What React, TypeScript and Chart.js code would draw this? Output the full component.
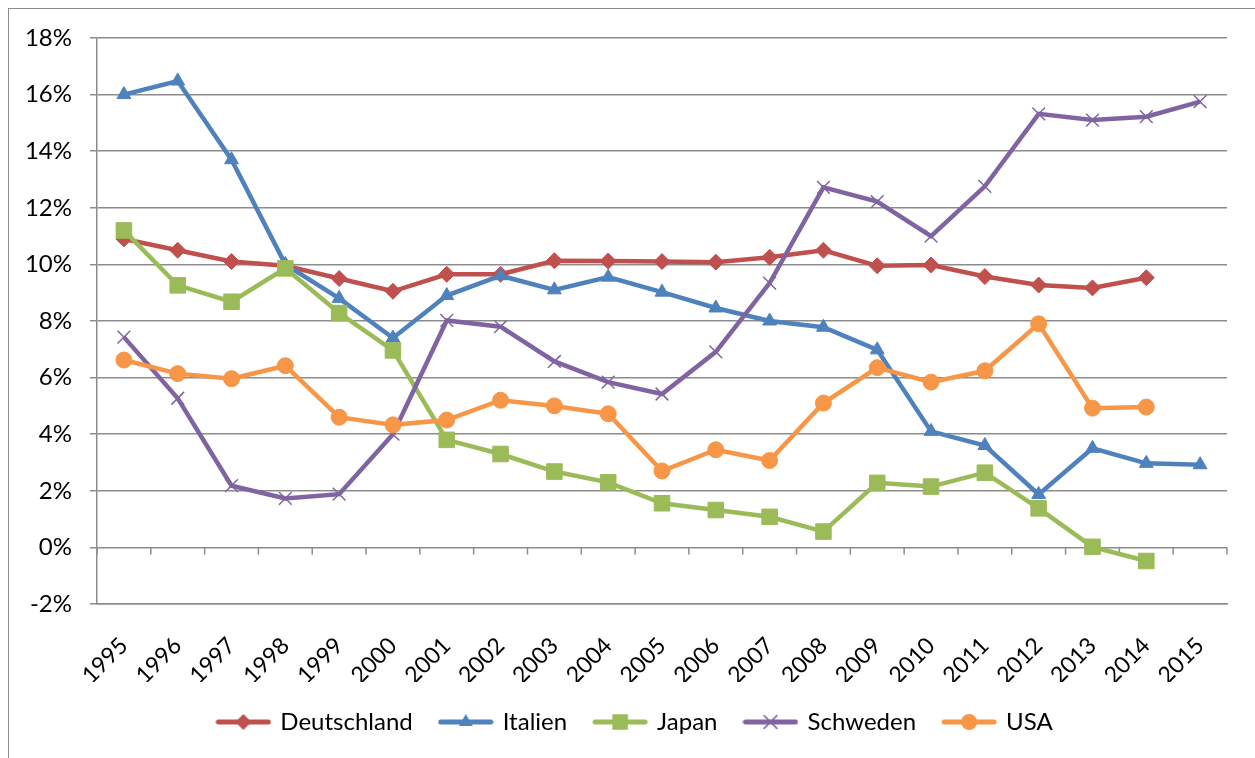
import React, { useEffect, useRef } from "react";
import { Chart, registerables } from "chart.js";

Chart.register(...registerables);

const categories = ["1995","1996","1997","1998","1999","2000","2001","2002","2003","2004","2005","2006","2007","2008","2009","2010","2011","2012","2013","2014","2015"];

const deutschland = [10.9,10.5,10.1,9.95,9.5,9.05,9.65,9.65,10.13,10.12,10.1,10.08,10.25,10.5,9.95,9.98,9.57,9.27,9.17,9.53,null];
const italien = [16.0,16.48,13.7,10.0,8.8,7.4,8.9,9.6,9.1,9.55,9.02,8.46,8.0,7.78,6.98,4.1,3.6,1.87,3.5,2.97,2.92];
const japan = [11.2,9.26,8.68,9.86,8.28,6.96,3.8,3.3,2.68,2.3,1.56,1.32,1.08,0.56,2.28,2.15,2.64,1.38,0.02,-0.48,null];
const schweden = [7.43,5.27,2.18,1.73,1.88,4.0,8.02,7.8,6.57,5.84,5.42,6.91,9.34,12.72,12.22,11.0,12.76,15.32,15.1,15.22,15.75];
const usa = [6.62,6.14,5.96,6.42,4.6,4.33,4.5,5.2,5.0,4.72,2.7,3.45,3.07,5.1,6.35,5.84,6.24,7.9,4.92,4.96,null];

const seriesNames = ["Deutschland","Italien","Japan","Schweden","USA"];
const seriesData = [deutschland, italien, japan, schweden, usa];
const seriesColors = ["#C0504D","#4F81BD","#9BBB59","#8064A2","#F79646"];
const seriesMarkers = ["rectRot","triangle","rect","crossRot","circle"];
const markerRadius = [8,8,11,9,8];

const yTicks = [-2,0,2,4,6,8,10,12,14,16,18];

const GRID = "#8c8c8c";
const FONT = "Lato, 'Liberation Sans', sans-serif";

function drawMarker(ctx: CanvasRenderingContext2D, style: string, x: number, y: number, r: number, color: string) {
  ctx.fillStyle = color;
  ctx.strokeStyle = color;
  ctx.beginPath();
  if (style === "rectRot") {
    ctx.moveTo(x, y - r); ctx.lineTo(x + r, y); ctx.lineTo(x, y + r); ctx.lineTo(x - r, y); ctx.closePath(); ctx.fill();
  } else if (style === "triangle") {
    ctx.moveTo(x, y - r); ctx.lineTo(x + r * 0.866, y + r * 0.5); ctx.lineTo(x - r * 0.866, y + r * 0.5); ctx.closePath(); ctx.fill();
  } else if (style === "rect") {
    const s = r * Math.SQRT1_2;
    ctx.rect(x - s, y - s, 2 * s, 2 * s); ctx.fill();
  } else if (style === "crossRot") {
    const s = r * Math.SQRT1_2;
    ctx.lineWidth = 1.5;
    ctx.moveTo(x - s, y - s); ctx.lineTo(x + s, y + s);
    ctx.moveTo(x + s, y - s); ctx.lineTo(x - s, y + s);
    ctx.stroke();
  } else {
    ctx.arc(x, y, r, 0, Math.PI * 2); ctx.fill();
  }
}

function legendImage(i: number): HTMLCanvasElement {
  const c = document.createElement("canvas");
  c.width = 56; c.height = 24;
  const ctx = c.getContext("2d")!;
  ctx.strokeStyle = seriesColors[i];
  ctx.lineWidth = 5;
  ctx.lineCap = "round";
  ctx.beginPath(); ctx.moveTo(3, 12); ctx.lineTo(53, 12); ctx.stroke();
  drawMarker(ctx, seriesMarkers[i], 28, 12, markerRadius[i], seriesColors[i]);
  return c;
}

const zeroTicks = {
  id: "zeroTicks",
  beforeDatasetsDraw(chart: any) {
    const xs = chart.scales.x, ys = chart.scales.y, ctx = chart.ctx;
    const y0 = ys.getPixelForValue(0);
    ctx.save();
    ctx.strokeStyle = GRID;
    ctx.lineWidth = 1.5;
    ctx.beginPath();
    for (let i = 0; i <= categories.length; i++) {
      const px = xs.getPixelForValue(i - 0.5);
      ctx.moveTo(px, y0); ctx.lineTo(px, y0 + 7);
    }
    ctx.stroke();
    ctx.restore();
  },
};

const legendShift = {
  id: "legendShift",
  afterLayout(chart: any) {
    const lg = chart.legend;
    if (lg) { lg.left += 22; lg.right += 22; }
  },
};

export default function App() {
  const ref = useRef<HTMLCanvasElement>(null);
  useEffect(() => {
    const images = seriesNames.map((_, i) => legendImage(i));
    const chart = new Chart(ref.current!, {
      type: "line",
      data: {
        labels: categories,
        datasets: seriesNames.map((name, i) => ({
          label: name,
          data: seriesData[i],
          borderColor: seriesColors[i],
          backgroundColor: seriesColors[i],
          borderWidth: 4.5,
          pointStyle: seriesMarkers[i] as any,
          pointRadius: markerRadius[i],
          pointBorderWidth: i === 3 ? 1.5 : 1,
          pointBorderColor: seriesColors[i],
          pointBackgroundColor: seriesColors[i],
          tension: 0,
          order: seriesNames.length - i,
        })),
      },
      options: {
        animation: false,
        responsive: false,
        layout: { padding: { top: 38, right: 28, left: 0, bottom: 14 } },
        scales: {
          x: {
            offset: true,
            grid: { display: false, offset: true },
            border: { display: true, color: GRID, width: 1.5 },
            ticks: {
              autoSkip: false, maxRotation: 45, minRotation: 45,
              color: "#000", padding: 20,
              font: { family: FONT, size: 23 },
            },
            afterFit: (s: any) => { s.height = 78; },
          },
          y: {
            min: -2, max: 18,
            afterBuildTicks: (s: any) => { s.ticks = yTicks.map((v) => ({ value: v })); },
            grid: { color: GRID, lineWidth: 1.5, tickLength: 7, drawTicks: true },
            border: { display: true, color: GRID, width: 1.5 },
            ticks: {
              color: "#000", padding: 18,
              font: { family: FONT, size: 24 },
              callback: (v: any) => `${v}%`,
            },
            afterFit: (s: any) => { s.width = 97; },
          },
        },
        plugins: {
          tooltip: { enabled: false },
          legend: {
            position: "bottom",
            labels: {
              usePointStyle: true,
              pointStyleWidth: 50,
              padding: 28,
              color: "#000",
              font: { family: FONT, size: 24 },
              generateLabels: () => seriesNames.map((name, i) => ({
                text: name,
                pointStyle: images[i] as any,
                fillStyle: seriesColors[i],
                strokeStyle: seriesColors[i],
                lineWidth: 0,
                hidden: false,
                datasetIndex: i,
                fontColor: "#000",
              })),
            },
          },
        },
      },
      plugins: [zeroTicks, legendShift],
    });
    return () => chart.destroy();
  }, []);

  return (
    <div style={{ position: "fixed", left: 0, top: 0, width: 1255, height: 758, overflow: "hidden", background: "#fff" }}>
      <div style={{ position: "absolute", left: 8, top: 8, width: 1400, height: 900, border: "1.5px solid #8c8c8c" }} />
      <canvas ref={ref} width={1255} height={758} style={{ position: "absolute", left: 0, top: 0, width: 1255, height: 758 }} />
    </div>
  );
}
